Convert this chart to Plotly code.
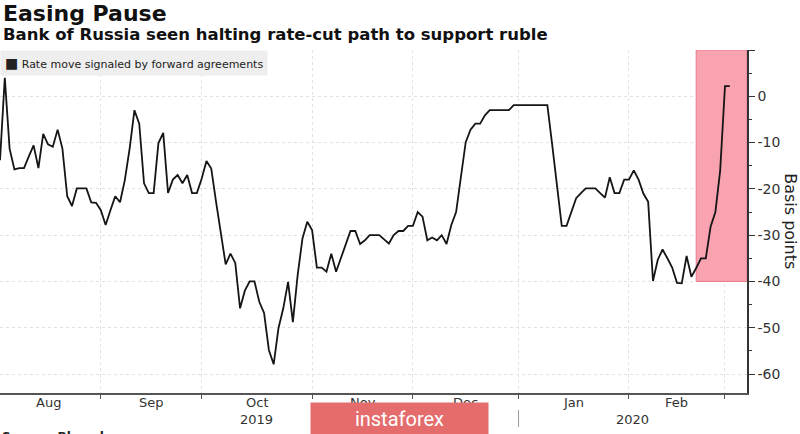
import pandas as pd
import plotly.graph_objects as go

# daily values (business days), basis points
aug_vals = [-13.8, 4.0, -11.3, -15.8, -15.5, -15.5, -13.0, -10.6, -15.5, -8.1, -10.4,
            -10.9, -7.2, -11.3, -21.6, -23.7, -19.9, -19.9, -19.9, -22.9, -23.0]
sep_vals = [-24.6, -27.8, -24.6, -21.6, -22.9, -18.1, -11.3, -3.0, -5.9, -18.8, -20.9,
            -20.9, -10.1, -7.9, -20.9, -18.0, -17.0, -18.8, -17.0, -20.9, -20.9]
oct_vals = [-17.8, -14.0, -15.6, -22.8, -29.6, -36.3, -34.0, -36.0, -45.8, -42.0, -40.0,
            -40.0, -44.4, -46.8, -54.8, -57.9, -50.1, -45.8, -40.1, -48.8, -38.6, -30.7, -27.1]
nov_vals = [-28.9, -37.0, -37.0, -37.9, -34.0, -37.9, -34.8, -31.9, -29.1, -29.1, -31.9,
            -31.1, -30.0, -30.0, -30.0, -30.9, -31.8, -30.0, -29.1, -29.1, -28.0]
dec_vals = [-28.0, -25.0, -26.0, -31.1, -30.5, -31.1, -30.0, -31.9, -27.8, -25.0, -17.4,
            -9.9, -7.2, -5.9, -5.9, -4.1, -3.0, -3.0, -3.0, -3.0, -3.0, -1.9]
jan_vals = [-1.9, -1.9, -1.9, -1.9, -1.9, -1.9, -1.9, -10.4, -19.4, -28.0, -28.0, -25.0,
            -22.0, -20.9, -19.9, -19.9, -19.9, -20.9, -21.9, -17.5, -20.9, -20.9, -18.0]
feb_vals = [-18.0, -16.0, -18.0, -21.0, -22.8, -39.9, -35.3, -33.1, -35.0, -37.0, -40.3,
            -40.4, -34.5, -39.0, -37.1, -35.0, -35.0, -28.2, -25.0, -16.0]
mar_vals = [2.2, 2.2]

values = aug_vals + sep_vals + oct_vals + nov_vals + dec_vals + jan_vals + feb_vals + mar_vals
dates = pd.bdate_range("2019-08-02", "2020-03-03")

month_starts = ["2019-08-01", "2019-09-02", "2019-10-01", "2019-11-01", "2019-12-02",
                "2020-01-01", "2020-02-03", "2020-03-02"]
month_labels = ["Aug", "Sep", "Oct", "Nov", "Dec", "Jan", "Feb"]
year_labels = ["2019", "2020"]
year_pos = ["2019-10-16 12:00", "2020-02-03 19:00"]
y_ticks = [-60, -50, -40, -30, -20, -10, 0, 10]
y_text = ["-60", "-50", "-40", "-30", "-20", "-10", "0", ""]

x_range = ["2019-08-02", "2020-03-06 14:00"]
y_range = [-64.1, 10]

FONT = "DejaVu Sans"

fig = go.Figure()
fig.add_trace(go.Scatter(x=dates, y=values, mode="lines",
                         line=dict(color="#151515", width=1.8),
                         showlegend=False, hoverinfo="x+y"))

# highlighted recent period
fig.add_shape(type="rect", xref="x", yref="y", x0="2020-02-21", x1=x_range[1],
              y0=-40, y1=y_range[1], fillcolor="#f9a3b0",
              line=dict(color="#e8798a", width=1), layer="between")

ann = []
# month labels centred on each month
for i, lab in enumerate(month_labels):
    bd = pd.bdate_range(month_starts[i], pd.Timestamp(month_starts[i + 1]) - pd.Timedelta(days=1))
    k = len(bd) / 2
    mid = bd[int(k)] + pd.Timedelta(hours=24 * (k - int(k)))
    ann.append(dict(x=mid, y=-0.029, xref="x", yref="paper", text=lab, showarrow=False,
                    font=dict(family=FONT, size=13, color="#333"), yanchor="middle"))
for lab, pos in zip(year_labels, year_pos):
    ann.append(dict(x=pos, y=-0.077, xref="x", yref="paper", text=lab, showarrow=False,
                    font=dict(family=FONT, size=13, color="#333"), yanchor="middle"))

# titles
ann.append(dict(x=0.002, y=1.105, xref="paper", yref="paper", text="<b>Easing Pause</b>",
                showarrow=False, xanchor="left", yanchor="middle",
                font=dict(family=FONT, size=22, color="#111")))
ann.append(dict(x=0.002, y=1.044, xref="paper", yref="paper",
                text="<b>Bank of Russia seen halting rate-cut path to support ruble</b>",
                showarrow=False, xanchor="left", yanchor="middle",
                font=dict(family=FONT, size=16.5, color="#111")))
# legend box
ann.append(dict(x=0, y=1, xref="paper", yref="paper",
                text="<span style='font-size:14px'>■</span> Rate move signaled by forward agreements",
                showarrow=False, xanchor="left", yanchor="top", bgcolor="#eeeeee",
                borderpad=4, font=dict(family=FONT, size=11, color="#222")))
# axis title on the right
ann.append(dict(x=1.058, y=0.5, xref="paper", yref="paper", text="Basis points",
                textangle=90, showarrow=False, xanchor="center", yanchor="middle",
                font=dict(family=FONT, size=16, color="#222")))
# source line (cut off at bottom)
ann.append(dict(x=0, y=-0.103, xref="paper", yref="paper", text="<b>Source: Bloomberg</b>",
                showarrow=False, xanchor="left", yanchor="top",
                font=dict(family=FONT, size=12, color="#222")))
# watermark
ann.append(dict(x=0.5348, y=-0.0743, xref="paper", yref="paper", text="instaforex",
                showarrow=False, xanchor="center", yanchor="middle", width=177, height=31,
                borderpad=0, bgcolor="#e46c6c",
                font=dict(family="Roboto", size=20, color="white")))

# year separator tick
fig.add_shape(type="line", xref="x", yref="paper", x0="2020-01-01", x1="2020-01-01",
              y0=-0.05, y1=-0.099, line=dict(color="#999", width=1))

fig.update_layout(
    width=800, height=434,
    margin=dict(l=0, r=53, t=50, b=41),
    paper_bgcolor="white", plot_bgcolor="white",
    annotations=ann,
    xaxis=dict(type="date", range=x_range,
               rangebreaks=[dict(bounds=["sat", "mon"])],
               tickvals=month_starts[1:], showticklabels=False,
               ticks="outside", ticklen=4, tickcolor="#555",
               showline=True, linecolor="#555", linewidth=1.5,
               showgrid=True, gridcolor="#e2e2e2", griddash="dot", gridwidth=1,
               zeroline=False, fixedrange=True),
    yaxis=dict(side="right", range=y_range, tickvals=y_ticks, ticktext=y_text,
               ticks="outside", ticklen=6, tickcolor="#333",
               showline=True, linecolor="#333", linewidth=1.5,
               showgrid=True, gridcolor="#e2e2e2", griddash="dot", gridwidth=1,
               zeroline=False,
               tickfont=dict(family=FONT, size=14, color="#333"),
               minor=dict(dtick=5, ticks="outside", ticklen=3, tickcolor="#333", showgrid=False)),
)

# page body has a default 8px margin; remove it so the chart fills the window
fig.write_html("out.html", config={"displayModeBar": False},
               post_script="document.body.style.margin='0px';")
